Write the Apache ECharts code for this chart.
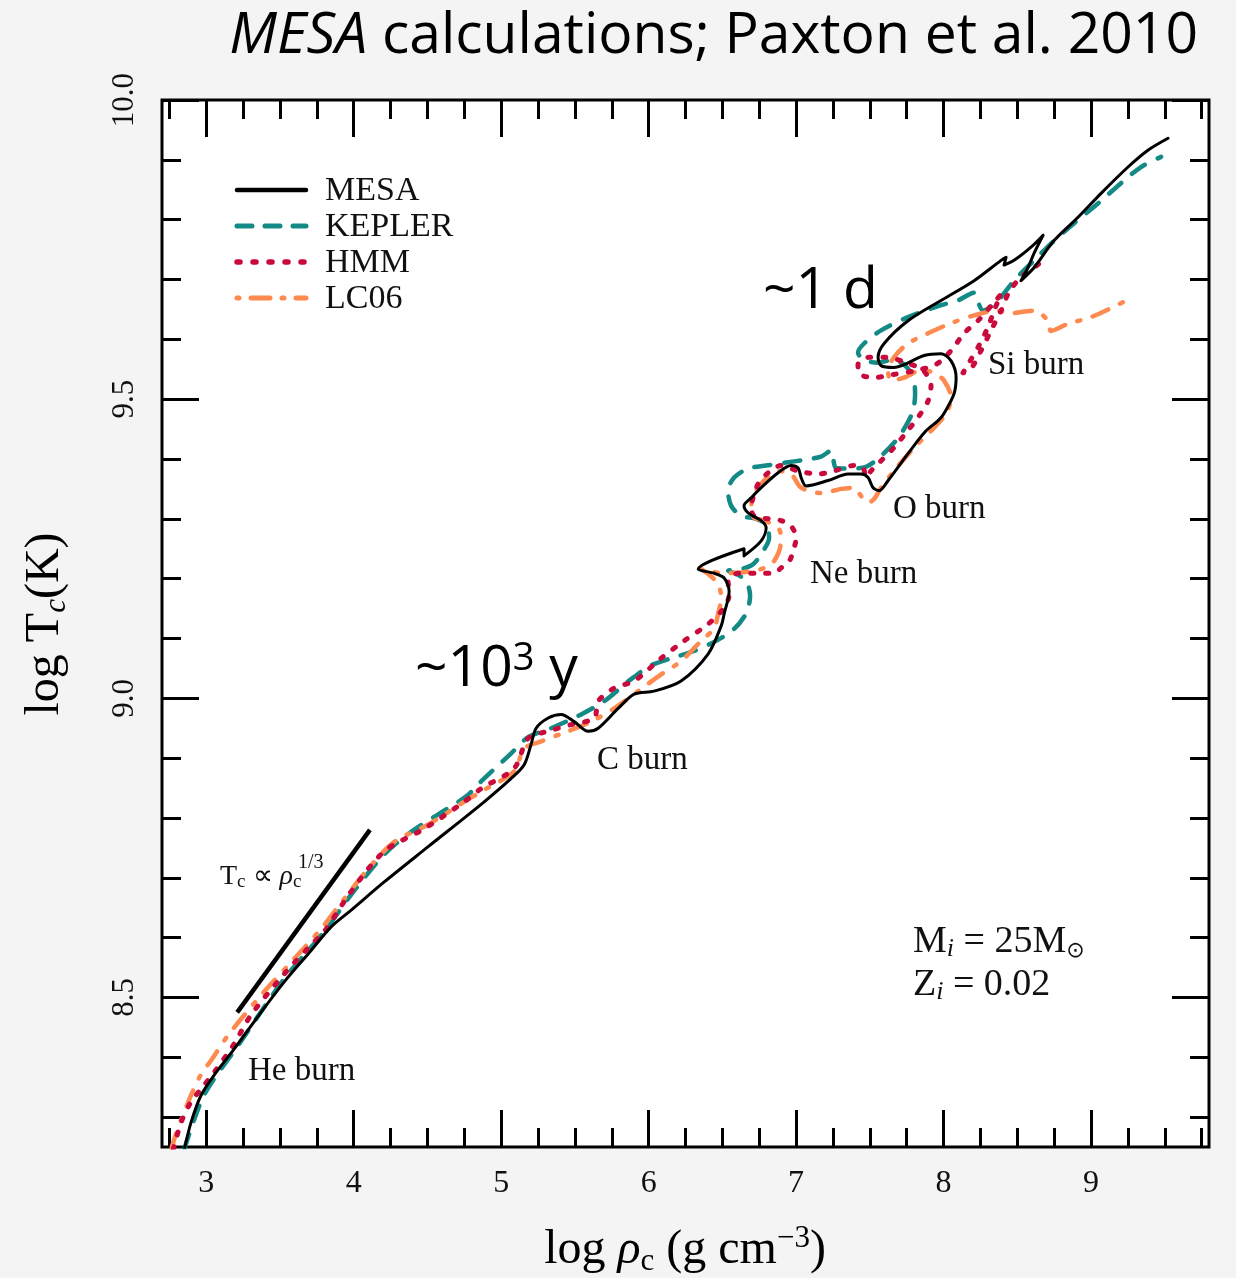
<!DOCTYPE html>
<html>
<head>
<meta charset="utf-8">
<script src="https://cdn.jsdelivr.net/npm/echarts@6.0.0/dist/echarts.min.js"></script>
<style>
html,body{margin:0;padding:0;background:#f4f4f4;}
#chart{width:1236px;height:1278px;}
</style>
</head>
<body>
<div id="chart"></div>
<script>
// axis ticks and labels
var xMajor = [3, 4, 5, 6, 7, 8, 9];
var xMinor = [2.75, 3.25, 3.5, 3.75, 4.25, 4.5, 4.75, 5.25, 5.5, 5.75, 6.25, 6.5, 6.75,
              7.25, 7.5, 7.75, 8.25, 8.5, 8.75, 9.25, 9.5, 9.75];
var xLabels = ['3', '4', '5', '6', '7', '8', '9'];
var yMajor = [8.5, 9.0, 9.5, 10.0];
var yMinor = [8.3, 8.4, 8.6, 8.7, 8.8, 8.9, 9.1, 9.2, 9.3, 9.4, 9.6, 9.7, 9.8, 9.9];
var yLabels = ['8.5', '9.0', '9.5', '10.0'];

// log rho_c , log T_c tracks
var mesaTrack = [[2.851,8.246],[2.898,8.292],[2.966,8.337],[3.068,8.375],[3.190,8.414],[3.359,8.471],
  [3.529,8.526],[3.692,8.573],[3.847,8.618],[3.983,8.646],[4.207,8.693],[4.505,8.752],[4.885,8.827],
  [5.068,8.866],[5.156,8.889],[5.203,8.923],[5.237,8.950],[5.319,8.967],[5.407,8.973],[5.495,8.961],
  [5.590,8.945],[5.658,8.950],[5.793,8.983],[5.902,9.007],[6.037,9.012],[6.220,9.029],[6.403,9.074],
  [6.492,9.121],[6.512,9.141],[6.546,9.179],[6.512,9.201],[6.444,9.209],[6.336,9.216],[6.647,9.250],
  [6.647,9.238],[6.763,9.263],[6.797,9.285],[6.763,9.297],[6.675,9.310],[6.647,9.322],[6.695,9.335],
  [6.763,9.352],[6.878,9.377],[6.966,9.389],[7.014,9.385],[7.034,9.369],[7.068,9.355],[7.217,9.364],
  [7.353,9.375],[7.441,9.375],[7.488,9.369],[7.522,9.352],[7.563,9.347],[7.624,9.364],[7.759,9.409],
  [7.881,9.447],[7.963,9.464],[8.003,9.476],[8.071,9.509],[8.085,9.536],[8.051,9.564],[7.983,9.576],
  [7.868,9.573],[7.664,9.553],[7.576,9.556],[7.556,9.570],[7.597,9.593],[7.759,9.631],[7.983,9.665],
  [8.207,9.698],[8.390,9.732],[8.424,9.737],[8.410,9.724],[8.478,9.732],[8.593,9.754],[8.675,9.774],
  [8.614,9.744],[8.573,9.720],[8.525,9.698],[8.614,9.720],[8.749,9.765],[8.912,9.804],[9.068,9.844],
  [9.251,9.888],[9.386,9.916],[9.522,9.936]];

var keplerTrack = [[2.851,8.246],[2.986,8.337],[3.217,8.420],[3.529,8.531],[3.800,8.610],[3.983,8.672],
  [4.207,8.739],[4.390,8.777],[4.573,8.806],[4.763,8.836],[4.864,8.861],[5.068,8.908],[5.183,8.935],
  [5.339,8.950],[5.542,8.973],[5.698,8.995],[5.881,9.032],[6.017,9.055],[6.153,9.067],[6.308,9.079],
  [6.458,9.096],[6.580,9.116],[6.661,9.142],[6.688,9.171],[6.661,9.196],[6.593,9.208],[6.539,9.213],
  [6.627,9.216],[6.708,9.224],[6.776,9.246],[6.817,9.268],[6.797,9.290],[6.729,9.300],[6.627,9.305],
  [6.559,9.322],[6.539,9.347],[6.580,9.369],[6.675,9.384],[6.797,9.389],[6.932,9.394],[7.068,9.399],
  [7.169,9.404],[7.237,9.414],[7.271,9.385],[7.373,9.384],[7.475,9.387],[7.576,9.405],[7.678,9.431],
  [7.746,9.456],[7.793,9.481],[7.807,9.509],[7.793,9.536],[7.732,9.558],[7.644,9.565],[7.556,9.561],
  [7.461,9.565],[7.420,9.578],[7.461,9.593],[7.576,9.615],[7.759,9.637],[7.983,9.657],[8.098,9.665],
  [8.207,9.678],[8.234,9.662],[8.268,9.648],[8.369,9.665],[8.478,9.698],[8.614,9.732],[8.729,9.760],
  [8.885,9.794],[9.047,9.827],[9.203,9.861],[9.339,9.888],[9.475,9.905]];

var hmmTrack = [[2.776,8.246],[2.831,8.292],[2.898,8.326],[2.966,8.347],[3.054,8.375],[3.183,8.420],
  [3.305,8.471],[3.529,8.539],[3.712,8.588],[3.800,8.610],[3.983,8.677],[4.207,8.744],[4.478,8.782],
  [4.749,8.827],[4.864,8.849],[5.088,8.883],[5.183,8.933],[5.319,8.945],[5.475,8.956],[5.631,8.967],
  [5.658,8.995],[5.766,9.017],[5.902,9.029],[6.085,9.067],[6.241,9.096],[6.403,9.124],[6.512,9.151],
  [6.546,9.174],[6.539,9.196],[6.607,9.209],[6.742,9.209],[6.851,9.209],[6.898,9.218],[6.953,9.229],
  [6.986,9.251],[7.000,9.268],[6.966,9.288],[6.898,9.297],[6.810,9.300],[6.715,9.305],[6.695,9.318],
  [6.708,9.335],[6.742,9.358],[6.810,9.377],[6.898,9.389],[7.014,9.380],[7.149,9.375],[7.258,9.380],
  [7.393,9.389],[7.454,9.385],[7.475,9.369],[7.508,9.380],[7.576,9.397],[7.664,9.419],[7.746,9.444],
  [7.834,9.472],[7.895,9.497],[7.915,9.523],[7.861,9.548],[7.746,9.561],[7.610,9.570],[7.495,9.570],
  [7.420,9.558],[7.427,9.543],[7.522,9.536],[7.658,9.541],[7.814,9.548],[7.949,9.558],[8.051,9.581],
  [8.139,9.610],[8.241,9.633],[8.336,9.660],[8.390,9.675],[8.349,9.652],[8.302,9.621],[8.241,9.590],
  [8.173,9.561],[8.132,9.544],[8.186,9.551],[8.254,9.581],[8.322,9.615],[8.390,9.648],[8.444,9.679],
  [8.525,9.704],[8.614,9.720],[8.695,9.736]];

var lc06Track = [[2.763,8.246],[2.783,8.263],[2.831,8.296],[2.898,8.337],[2.966,8.372],[3.034,8.395],
  [3.149,8.437],[3.373,8.504],[3.576,8.559],[3.780,8.615],[3.936,8.665],[4.098,8.715],[4.275,8.760],
  [4.505,8.789],[4.749,8.827],[4.864,8.844],[5.088,8.878],[5.156,8.916],[5.271,8.928],[5.454,8.945],
  [5.610,8.961],[5.766,8.983],[5.929,9.012],[6.085,9.040],[6.220,9.062],[6.356,9.096],[6.444,9.117],
  [6.471,9.141],[6.492,9.168],[6.471,9.191],[6.403,9.208],[6.356,9.216],[6.512,9.209],[6.715,9.213],
  [6.831,9.224],[6.885,9.246],[6.898,9.268],[6.878,9.285],[6.783,9.297],[6.715,9.302],[6.695,9.318],
  [6.715,9.342],[6.783,9.364],[6.878,9.380],[6.966,9.375],[7.034,9.352],[7.169,9.343],[7.305,9.350],
  [7.393,9.352],[7.441,9.338],[7.488,9.327],[7.529,9.333],[7.576,9.352],[7.664,9.380],[7.800,9.419],
  [7.915,9.447],[8.017,9.476],[8.051,9.503],[8.003,9.531],[7.936,9.544],[7.847,9.548],[7.732,9.536],
  [7.644,9.531],[7.624,9.548],[7.664,9.570],[7.759,9.593],[7.895,9.610],[8.051,9.627],[8.207,9.640],
  [8.369,9.648],[8.437,9.643],[8.614,9.648],[8.708,9.631],[8.729,9.614],[8.844,9.626],[8.999,9.637],
  [9.217,9.662]];

// T_c ~ rho_c^(1/3) guide
var slopeGuide = [[3.21, 8.475], [4.11, 8.78]];

var legendNames = ['MESA', 'KEPLER', 'HMM', 'LC06'];
var colors = {MESA: '#000', KEPLER: '#138a86', HMM: '#c80a3c', LC06: '#ff8a50'};

var serif = '"Liberation Serif", "Times New Roman", serif';
var sans = '"Open Sans", "Noto Sans", sans-serif';

function xAx(pos, ticks, len, labels) {
    return {
        type: 'value', min: 2.7, max: 9.8, position: pos,
        axisLine: {show: false}, splitLine: {show: false},
        axisTick: {show: true, inside: true, length: len, customValues: ticks,
                   lineStyle: {color: '#000', width: 3}},
        axisLabel: {show: !!labels, customValues: ticks, margin: 21,
                    fontFamily: serif, fontSize: 32, color: '#111',
                    formatter: function (v) { return labels ? labels[xMajor.indexOf(v)] : ''; }}
    };
}
function yAx(pos, ticks, len, labels) {
    return {
        type: 'value', min: 8.25, max: 10.0, position: pos,
        axisLine: {show: false}, splitLine: {show: false},
        axisTick: {show: true, inside: true, length: len, customValues: ticks,
                   lineStyle: {color: '#000', width: 3}},
        axisLabel: {show: !!labels, customValues: ticks, margin: 22, rotate: 90,
                    fontFamily: serif, fontSize: 31, color: '#111',
                    formatter: function (v) {
                        if (!labels) return '';
                        for (var i = 0; i < yMajor.length; i++) {
                            if (Math.abs(yMajor[i] - v) < 1e-6) return labels[i];
                        }
                        return '';
                    }}
    };
}
function track(name, data, color, width, dash, z) {
    return {
        name: name, type: 'line', data: data, symbol: 'none', showSymbol: false,
        smooth: 0.3, clip: true, z: z,
        lineStyle: {color: color, width: width, type: dash, cap: 'round', join: 'round'},
        itemStyle: {color: color}
    };
}

var rn = {fontFamily: serif, fontSize: 48, lineHeight: 54, verticalAlign: 'middle', color: '#111'};
var ri = {fontFamily: serif, fontSize: 48, lineHeight: 54, verticalAlign: 'middle', fontStyle: 'italic', color: '#111'};
var rsub = {fontFamily: serif, fontSize: 31, lineHeight: 29, verticalAlign: 'bottom', color: '#111'};
var risub = {fontFamily: serif, fontSize: 31, lineHeight: 29, verticalAlign: 'bottom', fontStyle: 'italic', color: '#111'};
var rsup = {fontFamily: serif, fontSize: 31, lineHeight: 29, verticalAlign: 'top', color: '#111'};

function note(x, y, text, size, font, extra) {
    var st = {text: text, x: x, y: y, fill: '#111', fontFamily: font || serif, fontSize: size,
              align: 'left', verticalAlign: 'middle'};
    if (extra) for (var k in extra) st[k] = extra[k];
    return {type: 'text', z: 50, style: st};
}

// hand-made legend (line samples + names)
var legendDash = {MESA: null, KEPLER: [15, 13], HMM: [3, 13], LC06: [2, 12, 19, 12]};
var legendWidth = {MESA: 4.5, KEPLER: 5, HMM: 5.5, LC06: 5};
var legendItems = [];
legendNames.forEach(function (n, i) {
    var y = 190 + i * 36;
    legendItems.push({type: 'line', z: 50,
        shape: {x1: 237, y1: y, x2: 306, y2: y},
        style: {stroke: colors[n], lineWidth: legendWidth[n], lineDash: legendDash[n], lineCap: 'round'}});
    legendItems.push(note(325, y + 1, n, 34));
});

var myChart = echarts.init(document.getElementById('chart'));
var option = {
    backgroundColor: '#f4f4f4',
    animation: false,
    grid: {left: 162, top: 100, right: 27, bottom: 131, show: true,
           backgroundColor: '#fff', borderColor: '#000', borderWidth: 3},
    xAxis: [xAx('bottom', xMajor, 37, xLabels), xAx('bottom', xMinor, 19, null),
            xAx('top', xMajor, 37, null), xAx('top', xMinor, 19, null)],
    yAxis: [yAx('left', yMajor, 37, yLabels), yAx('left', yMinor, 19, null),
            yAx('right', yMajor, 37, null), yAx('right', yMinor, 19, null)],
    series: [
        track('KEPLER', keplerTrack, colors.KEPLER, 4.5, [16, 14], 2),
        track('LC06', lc06Track, colors.LC06, 4.5, [17, 13, 3, 13], 3),
        track('HMM', hmmTrack, colors.HMM, 5, [3, 12], 4),
        track('MESA', mesaTrack, colors.MESA, 3, 'solid', 5),
        {name: 'slope', type: 'line', data: slopeGuide, symbol: 'none', z: 5,
         lineStyle: {color: '#000', width: 4.5, type: 'solid'}}
    ],
    graphic: legendItems.concat([
        {type: 'text', z: 50, style: {
            text: '{i|MESA}{n| calculations; Paxton et al. 2010}', x: 1198, y: 37,
            align: 'right', verticalAlign: 'middle',
            rich: {i: {fontFamily: sans, fontSize: 57, fontStyle: 'italic', color: '#000'},
                   n: {fontFamily: sans, fontSize: 57, color: '#000'}}}},
        {type: 'text', z: 50, style: {
            text: '{n|log }{i|\u03c1}{sub|c}{n| (g cm}{sup|\u22123}{n|)}', x: 685, y: 1250,
            align: 'center', verticalAlign: 'middle',
            rich: {n: rn, i: ri, sub: rsub, sup: rsup}}},
        {type: 'text', z: 50, x: 45, y: 624, rotation: Math.PI / 2, style: {
            text: '{n|log T}{isub|c}{n|(K)}', x: 0, y: 0,
            align: 'center', verticalAlign: 'middle',
            rich: {n: rn, isub: risub}}},
        note(763, 292, '~1 d', 57, sans, {fill: '#000'}),
        note(415, 670, '{n|~10}{s|3}{n| y}', 57, sans, {fill: '#000',
            rich: {n: {fontFamily: sans, fontSize: 57, lineHeight: 60, verticalAlign: 'middle', color: '#000'},
                   s: {fontFamily: sans, fontSize: 38, lineHeight: 44, verticalAlign: 'top', color: '#000'}}}),
        note(988, 365, 'Si burn', 33),
        note(893, 509, 'O burn', 33),
        note(810, 574, 'Ne burn', 33),
        note(597, 760, 'C burn', 33),
        note(248, 1071, 'He burn', 33),
        note(220, 877, '{n|T}{sub|c}{n| \u221d }{i|\u03c1}{sub|c}', 27, serif, {
            rich: {n: {fontFamily: serif, fontSize: 28, lineHeight: 30, verticalAlign: 'middle', color: '#111'},
                   i: {fontFamily: serif, fontSize: 28, lineHeight: 30, verticalAlign: 'middle', fontStyle: 'italic', color: '#111'},
                   sub: {fontFamily: serif, fontSize: 19, lineHeight: 18, verticalAlign: 'bottom', color: '#111'}}}),
        note(298, 863, '1/3', 20),
        note(913, 942, '{n|M}{s|i}{n| = 25M}{o|\u2299}', 38, serif, {
            rich: {n: {fontFamily: serif, fontSize: 38, lineHeight: 40, verticalAlign: 'middle', color: '#111'},
                   s: {fontFamily: serif, fontSize: 26, lineHeight: 24, verticalAlign: 'bottom', fontStyle: 'italic', color: '#111'},
                   o: {fontFamily: '"DejaVu Sans", sans-serif', fontSize: 22, lineHeight: 24, verticalAlign: 'bottom', color: '#111'}}}),
        note(913, 985, '{n|Z}{s|i}{n| = 0.02}', 38, serif, {
            rich: {n: {fontFamily: serif, fontSize: 38, lineHeight: 40, verticalAlign: 'middle', color: '#111'},
                   s: {fontFamily: serif, fontSize: 26, lineHeight: 24, verticalAlign: 'bottom', fontStyle: 'italic', color: '#111'}}})
    ])
};
myChart.setOption(option);
</script>
</body>
</html>
